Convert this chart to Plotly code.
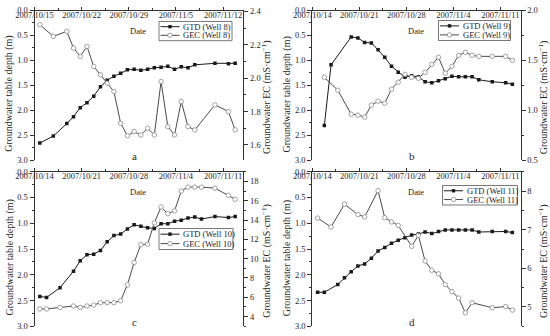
import pandas as pd
import plotly.graph_objects as go

# ---------------- data ----------------
MEAS_HOUR = 19  # measurements plotted late in the day

# Panel a  (Well 8)
A_START, A_END = "2007-10-15", "2007-11-15"
A_TICKS = ["2007/10/15", "2007/10/22", "2007/10/29", "2007/11/5", "2007/11/12"]
A_GTD_DAYS = [0, 2, 4, 5, 6, 7, 8, 9, 10, 11, 12, 13, 14, 15, 16, 17, 18, 19, 20, 21, 22, 23, 26, 28, 29]
A_GTD = [2.66, 2.52, 2.27, 2.13, 1.95, 1.85, 1.72, 1.53, 1.40, 1.32, 1.26, 1.19, 1.18, 1.20, 1.18,
         1.15, 1.14, 1.12, 1.18, 1.13, 1.15, 1.09, 1.06, 1.07, 1.06]
A_GEC_DAYS = A_GTD_DAYS
A_GEC = [2.32, 2.25, 2.28, 2.18, 2.13, 2.19, 2.07, 2.02, 1.97, 1.92, 1.73, 1.655, 1.68, 1.66, 1.70,
         1.66, 1.98, 1.71, 1.66, 1.86, 1.71, 1.69, 1.84, 1.80, 1.69]
A_EC_RANGE = [1.51, 2.405]
A_EC_TICKS = [1.6, 1.8, 2.0, 2.2, 2.4]

# Panel b  (Well 9)
B_START, B_END = "2007-10-14", "2007-11-14"
B_TICKS = ["2007/10/14", "2007/10/21", "2007/10/28", "2007/11/4", "2007/11/11"]
B_GTD_DAYS = [1, 2, 5, 6, 7, 8, 9, 10, 11, 12, 13, 14, 15, 16, 17, 18, 19, 20, 21, 22, 23, 24, 26, 28, 29]
B_GTD = [2.31, 1.09, 0.53, 0.55, 0.64, 0.65, 0.79, 0.94, 1.12, 1.24, 1.34, 1.31, 1.33, 1.43, 1.45,
         1.41, 1.37, 1.32, 1.33, 1.33, 1.33, 1.39, 1.43, 1.45, 1.48]
B_GEC_DAYS = [1, 3, 5, 6, 7, 8, 9, 10, 11, 12, 13, 14, 15, 16, 17, 18, 19, 20, 21, 22, 23, 24, 26, 28, 29]
B_GEC = [1.33, 1.20, 0.96, 0.95, 0.93, 1.05, 1.09, 1.07, 1.21, 1.28, 1.36, 1.33, 1.32, 1.38, 1.46,
         1.53, 1.37, 1.44, 1.55, 1.58, 1.55, 1.54, 1.54, 1.54, 1.50]
B_EC_RANGE = [0.5, 2.0]
B_EC_TICKS = [0.5, 1.0, 1.5, 2.0]

# Panel c  (Well 10)
C_START, C_END = "2007-10-14", "2007-11-14"
C_TICKS = ["2007/10/14", "2007/10/21", "2007/10/28", "2007/11/4", "2007/11/11"]
C_GTD_DAYS = [0, 1, 3, 5, 6, 7, 8, 9, 10, 11, 12, 13, 14, 15, 16, 17, 18, 19, 20, 21, 22, 23, 24, 26, 28, 29]
C_GTD = [2.42, 2.44, 2.25, 1.93, 1.73, 1.61, 1.60, 1.53, 1.36, 1.24, 1.21, 1.11, 1.03, 1.06, 1.09,
         1.10, 1.01, 1.01, 0.96, 0.94, 0.90, 0.88, 0.92, 0.87, 0.89, 0.87]
C_GEC_DAYS = C_GTD_DAYS
C_GEC = [4.8, 4.8, 4.95, 5.1, 4.95, 5.1, 5.2, 5.45, 5.45, 5.45, 5.65, 7.3, 9.6, 11.45, 11.5,
         13.7, 15.35, 14.65, 14.95, 17.0, 17.4, 17.4, 17.4, 17.3, 16.55, 16.15]
C_EC_RANGE = [3, 19]
C_EC_TICKS = [4, 6, 8, 10, 12, 14, 16, 18]

# Panel d  (Well 11)
D_START, D_END = "2007-10-14", "2007-11-14"
D_TICKS = ["2007/10/14", "2007/10/21", "2007/10/28", "2007/11/4", "2007/11/11"]
D_GTD_DAYS = [0, 1, 3, 4, 5, 6, 7, 8, 9, 10, 11, 12, 13, 14, 15, 16, 17, 18, 19, 20, 21, 22, 23, 24, 26, 28, 29]
D_GTD = [2.34, 2.34, 2.19, 2.06, 1.94, 1.83, 1.79, 1.68, 1.54, 1.47, 1.39, 1.33, 1.28, 1.23, 1.21,
         1.17, 1.20, 1.16, 1.13, 1.13, 1.13, 1.13, 1.13, 1.17, 1.16, 1.16, 1.18]
D_GEC_DAYS = [0, 2, 4, 6, 7, 9, 10, 11, 12, 14, 15, 16, 17, 18, 19, 20, 21, 22, 23, 26, 28, 29]
D_GEC = [7.30, 7.07, 7.66, 7.39, 7.33, 8.01, 7.31, 7.20, 7.11, 6.57, 6.85, 6.19, 5.95, 5.86, 5.58,
         5.40, 5.23, 4.85, 5.11, 4.98, 5.01, 4.92]
D_EC_RANGE = [4.5, 8.5]
D_EC_TICKS = [5, 6, 7, 8]

DEPTH_TICKS = [0.0, 0.5, 1.0, 1.5, 2.0, 2.5, 3.0]
WELLS = ["Well 8", "Well 9", "Well 10", "Well 11"]
LETTERS = ["a", "b", "c", "d"]

# ---------------- styling / layout ----------------
W, H = 550, 336
FONT = "Liberation Serif"
AXC = "#333333"
TXT = "#1e1e1e"

LEFT_X = (34.5, 243.3)
RIGHT_X = (312.3, 520.5)
TOP_Y = (10.5, 160.0)
BOT_Y = (171.7, 326.3)


def px(x):
    return x / W


def py(y):
    return 1 - y / H


def dates(start, days):
    s = pd.Timestamp(start)
    return [s + pd.Timedelta(days=d, hours=MEAS_HOUR) for d in days]


def tick_dates(labels):
    return [pd.Timestamp(t.replace("/", "-")) for t in labels]


def aid(p, n):
    return p if n == 1 else f"{p}{n}"


def lkey(p, n):
    return f"{p}axis" if n == 1 else f"{p}axis{n}"


panels = [
    dict(start=A_START, end=A_END, ticks=A_TICKS, gd=A_GTD_DAYS, g=A_GTD, ed=A_GEC_DAYS, e=A_GEC,
         er=A_EC_RANGE, et=A_EC_TICKS, ef=".1f", emin=0.1, xs=LEFT_X, ys=TOP_Y),
    dict(start=B_START, end=B_END, ticks=B_TICKS, gd=B_GTD_DAYS, g=B_GTD, ed=B_GEC_DAYS, e=B_GEC,
         er=B_EC_RANGE, et=B_EC_TICKS, ef=".1f", emin=0.25, xs=RIGHT_X, ys=TOP_Y),
    dict(start=C_START, end=C_END, ticks=C_TICKS, gd=C_GTD_DAYS, g=C_GTD, ed=C_GEC_DAYS, e=C_GEC,
         er=C_EC_RANGE, et=C_EC_TICKS, ef="d", emin=1.0, xs=LEFT_X, ys=BOT_Y),
    dict(start=D_START, end=D_END, ticks=D_TICKS, gd=D_GTD_DAYS, g=D_GTD, ed=D_GEC_DAYS, e=D_GEC,
         er=D_EC_RANGE, et=D_EC_TICKS, ef="d", emin=0.5, xs=RIGHT_X, ys=BOT_Y),
]

legend_boxes = [(159, 21.5, 232, 40.7), (438.5, 20.5, 510.5, 40.5),
                (159, 228.5, 233, 249.5), (442.5, 185.5, 517.5, 205)]

fig = go.Figure()
layout = {}
shapes = []
annotations = []

tickfont = dict(family=FONT, size=8.5, color=TXT)

for i, p in enumerate(panels, start=1):
    xa, yl, yr = aid("x", i), aid("y", i), aid("y", i + 4)
    fig.add_trace(go.Scatter(
        x=dates(p["start"], p["gd"]), y=p["g"], xaxis=xa, yaxis=yl, mode="lines+markers",
        line=dict(color="#1a1a1a", width=1),
        marker=dict(symbol="square", size=3.5, color="#1a1a1a"), showlegend=False,
        name=f"GTD ({WELLS[i-1]})"))
    fig.add_trace(go.Scatter(
        x=dates(p["start"], p["ed"]), y=p["e"], xaxis=xa, yaxis=yr, mode="lines+markers",
        line=dict(color="#4a4a4a", width=1),
        marker=dict(symbol="circle", size=4.5, color="white", line=dict(color="#8c8c8c", width=0.8)),
        showlegend=False, name=f"GEC ({WELLS[i-1]})"))

    tv = tick_dates(p["ticks"])
    minor_tv = [t + pd.Timedelta(days=3.5) for t in tv]
    xdom = [px(p["xs"][0]), px(p["xs"][1])]
    ydom = [py(p["ys"][1]), py(p["ys"][0])]

    layout[lkey("x", i)] = dict(
        domain=xdom, anchor=yl, side="top", type="date", automargin=False,
        range=[pd.Timestamp(p["start"]), pd.Timestamp(p["end"])],
        tickmode="array", tickvals=tv, ticktext=p["ticks"],
        ticks="outside", ticklen=3, tickwidth=1, tickcolor=AXC,
        ticklabelposition="inside", ticklabeloverflow="allow",
        showline=True, linecolor=AXC, linewidth=1, showgrid=False, zeroline=False,
        tickfont=tickfont,
        minor=dict(ticks="outside", ticklen=2, tickcolor=AXC, tickmode="array", tickvals=minor_tv),
    )
    layout[lkey("y", i)] = dict(
        domain=ydom, anchor=xa, range=[3, 0], tickmode="array", tickvals=DEPTH_TICKS,
        ticktext=[f"{v:.1f}" for v in DEPTH_TICKS], automargin=False,
        ticks="outside", ticklen=4, tickwidth=1, tickcolor=AXC,
        showline=True, linecolor=AXC, linewidth=1, showgrid=False, zeroline=False,
        tickfont=tickfont,
        minor=dict(ticks="outside", ticklen=2, tickcolor=AXC, tickmode="array",
                   tickvals=[0.25, 0.75, 1.25, 1.75, 2.25, 2.75]),
    )
    lo, hi = p["er"]
    mt = []
    v = p["et"][0] - p["emin"]
    while v <= hi + 1e-9:
        if v >= lo - 1e-9 and all(abs(v - t) > 1e-6 for t in p["et"]):
            mt.append(round(v, 4))
        v += p["emin"]
    layout[lkey("y", i + 4)] = dict(
        overlaying=yl, side="right", anchor=xa, range=p["er"], tickmode="array", automargin=False,
        tickvals=p["et"], ticktext=[format(t, p["ef"]) if p["ef"] != "d" else str(int(t)) for t in p["et"]],
        ticks="outside", ticklen=4, tickwidth=1, tickcolor=AXC,
        showline=True, linecolor=AXC, linewidth=1, showgrid=False, zeroline=False,
        tickfont=tickfont,
        minor=dict(ticks="outside", ticklen=2, tickcolor=AXC, tickmode="array", tickvals=mt),
    )

    x0, x1 = p["xs"]
    y0, y1 = p["ys"]
    cy = (y0 + y1) / 2 + 9
    annotations.append(dict(text="Groundwater table depth (m)", x=px(x0 - 25), y=py(cy),
                            xref="paper", yref="paper", textangle=-90, showarrow=False,
                            font=dict(family=FONT, size=10, color=TXT), xanchor="center", yanchor="middle"))
    annotations.append(dict(text="Groundwater EC (mS·cm<sup>−1</sup>)", x=px(x1 + 22.5), y=py(cy + 3),
                            xref="paper", yref="paper", textangle=-90, showarrow=False,
                            font=dict(family=FONT, size=10, color=TXT), xanchor="center", yanchor="middle"))
    annotations.append(dict(text="Date", x=px(x0 + 0.5 * (x1 - x0) - 0.5), y=py(y0 + 20.5),
                            xref="paper", yref="paper", showarrow=False,
                            font=dict(family=FONT, size=8.5, color=TXT), xanchor="center", yanchor="middle"))
    annotations.append(dict(text=LETTERS[i - 1], x=px(x0 + 100), y=py(y1 - 4),
                            xref="paper", yref="paper", showarrow=False,
                            font=dict(family=FONT, size=11, color=TXT), xanchor="center", yanchor="middle"))

    bx0, by0, bx1, by1 = legend_boxes[i - 1]
    shapes.append(dict(type="rect", xref="paper", yref="paper", x0=px(bx0), x1=px(bx1),
                       y0=py(by1), y1=py(by0), line=dict(color="#555555", width=0.8),
                       fillcolor="white", layer="above"))
    bh = by1 - by0
    rows = [by0 + bh * 0.27, by0 + bh * 0.72]
    for r, (lab, lc) in enumerate([("GTD", "#1a1a1a"), ("GEC", "#4a4a4a")]):
        yy = rows[r]
        shapes.append(dict(type="line", xref="paper", yref="paper", x0=px(bx0 + 1.5), x1=px(bx0 + 20.5),
                           y0=py(yy), y1=py(yy), line=dict(color=lc, width=1), layer="above"))
        mx = bx0 + 11
        if r == 0:
            shapes.append(dict(type="rect", xref="paper", yref="paper", x0=px(mx - 1.7), x1=px(mx + 1.7),
                               y0=py(yy + 1.7), y1=py(yy - 1.7), line=dict(width=0),
                               fillcolor="#1a1a1a", layer="above"))
        else:
            shapes.append(dict(type="circle", xref="paper", yref="paper", x0=px(mx - 2.2), x1=px(mx + 2.2),
                               y0=py(yy + 2.2), y1=py(yy - 2.2), line=dict(color="#8c8c8c", width=0.8),
                               fillcolor="white", layer="above"))
        annotations.append(dict(text=f"{lab} ({WELLS[i-1]})", x=px(bx0 + 22), y=py(yy),
                                xref="paper", yref="paper", showarrow=False, xanchor="left",
                                yanchor="middle", font=dict(family=FONT, size=8.5, color=TXT)))

fig.update_layout(
    width=W, height=H, margin=dict(l=0, r=0, t=0, b=0, autoexpand=False),
    paper_bgcolor="white", plot_bgcolor="white",
    font=dict(family=FONT, size=9, color=TXT),
    shapes=shapes, annotations=annotations, showlegend=False, hovermode=False,
    **layout,
)

fig.write_html("out.html", config={"displayModeBar": False, "staticPlot": True},
               post_script="document.body.style.margin='0';document.body.style.padding='0';")
